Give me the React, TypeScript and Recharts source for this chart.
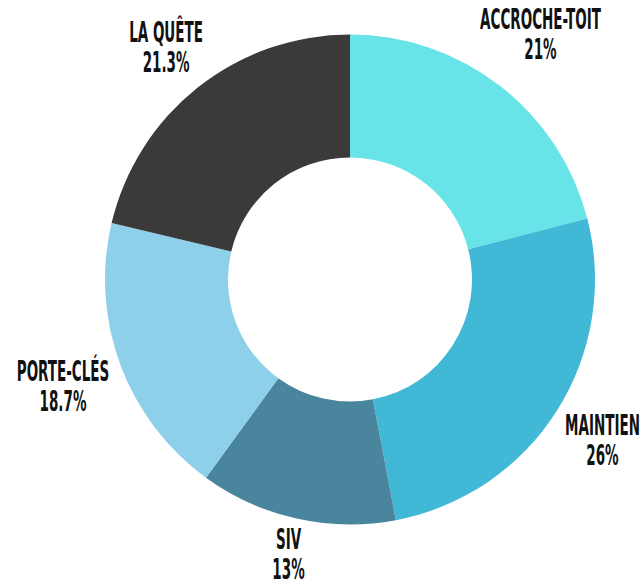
import React from "react";
import { PieChart, Pie, Cell } from "recharts";

const categories = ["ACCROCHE-TOIT", "MAINTIEN", "SIV", "PORTE-CLÉS", "LA QUÊTE"];
const values = [21, 26, 13, 18.7, 21.3];
const valueLabels = ["21%", "26%", "13%", "18.7%", "21.3%"];
const colors = ["#68E4E8", "#42B8D7", "#4A859E", "#8ECFEA", "#3A3A3A"];

const data = categories.map((name, i) => ({ name, value: values[i], label: valueLabels[i] }));

const FONT_SIZE = 25;
const FONT_FAMILY = "'Liberation Sans Narrow', 'DejaVu Sans Condensed', sans-serif";
const SCALE_X = 0.6;
const SCALE_Y = 1.12;
const LINE_GAP = 30;

let ctx: CanvasRenderingContext2D | null = null;
function measure(text: string): number {
  if (!ctx) {
    const c = document.createElement("canvas");
    ctx = c.getContext("2d");
  }
  if (!ctx) return text.length * FONT_SIZE * 0.5;
  ctx.font = `bold ${FONT_SIZE}px ${FONT_FAMILY}`;
  return ctx.measureText(text).width * SCALE_X;
}

const renderLabel = (props: any) => {
  const { cx, cy, midAngle, outerRadius, index } = props;
  const d = data[index];
  const rad = (-midAngle * Math.PI) / 180;
  const cos = Math.cos(rad);
  const sin = Math.sin(rad);
  const w = Math.max(measure(d.name), measure(d.label));
  const h = 50;
  const r0 = outerRadius + 9;
  const dist = r0 + (w / 2) * Math.abs(cos) + (h / 2) * Math.abs(sin);
  let x = cx + dist * cos;
  let y = cy + dist * sin;
  const maxX = 643 - w / 2 - 2;
  if (x > maxX) x = maxX;
  if (x < w / 2 + 2) x = w / 2 + 2;
  if (y < h / 2 + 8) y = h / 2 + 8;
  if (y > 584 - h / 2 - 5) y = 584 - h / 2 - 5;
  return (
    <g transform={`translate(${x},${y}) scale(${SCALE_X},${SCALE_Y})`}>
      <text
        x={0}
        y={-LINE_GAP / 2 / SCALE_Y}
        textAnchor="middle"
        dominantBaseline="central"
        fontFamily={FONT_FAMILY}
        fontWeight="bold"
        fontSize={FONT_SIZE}
        fill="#111111"
      >
        {d.name}
      </text>
      <text
        x={0}
        y={LINE_GAP / 2 / SCALE_Y}
        textAnchor="middle"
        dominantBaseline="central"
        fontFamily={FONT_FAMILY}
        fontWeight="bold"
        fontSize={FONT_SIZE}
        fill="#111111"
      >
        {d.label}
      </text>
    </g>
  );
};

export default function App() {
  return (
    <div style={{ position: "absolute", left: 0, top: 0, width: 643, height: 584, background: "#ffffff" }}>
      <PieChart width={643} height={584} margin={{ top: 0, right: 0, bottom: 0, left: 0 }}>
        <Pie
          data={data}
          dataKey="value"
          nameKey="name"
          cx={350}
          cy={279.5}
          innerRadius={122}
          outerRadius={245}
          startAngle={90}
          endAngle={-270}
          stroke="none"
          label={renderLabel}
          labelLine={false}
          isAnimationActive={false}
        >
          {data.map((d, i) => (
            <Cell key={d.name} fill={colors[i]} />
          ))}
        </Pie>
      </PieChart>
    </div>
  );
}
